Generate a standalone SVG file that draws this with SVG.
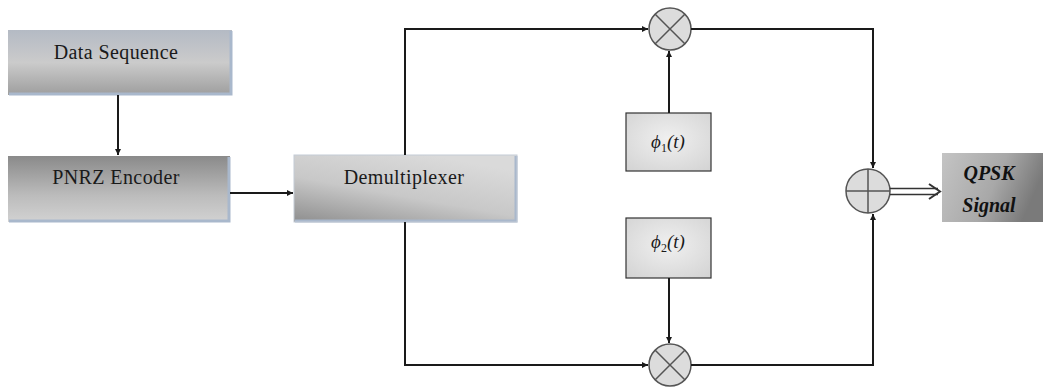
<svg xmlns="http://www.w3.org/2000/svg" width="1043" height="388" viewBox="0 0 1043 388">
  <style>
    .lbl { font-family: "Liberation Serif", "Times New Roman", serif; font-size: 20px; letter-spacing: 0.4px; fill: #1a1a1a; text-anchor: middle; }
    .phi { font-family: "Liberation Serif", "Times New Roman", serif; font-size: 19px; font-style: italic; fill: #1a1a1a; text-anchor: middle; }
    .out { font-family: "Liberation Serif", "Times New Roman", serif; font-size: 20px; font-weight: bold; font-style: italic; fill: #111; text-anchor: middle; }
    .wire { fill: none; stroke: #1a1a1a; stroke-width: 2; }
    .edge { fill: none; stroke: #a9b8cc; stroke-width: 3; }
    .op { fill: #dcdcdc; stroke: #555; stroke-width: 1.5; }
    .cross { stroke: #555; stroke-width: 1.5; }
  </style>
  <defs>
    <linearGradient id="gSeq" x1="0" y1="0" x2="0" y2="1">
      <stop offset="0" stop-color="#b4bac4"/>
      <stop offset="0.5" stop-color="#cbcbcb"/>
      <stop offset="1" stop-color="#9e9e9e"/>
    </linearGradient>
    <linearGradient id="gEnc" x1="0" y1="0" x2="0" y2="1">
      <stop offset="0" stop-color="#8a8a8a"/>
      <stop offset="0.6" stop-color="#bcbcbc"/>
      <stop offset="1" stop-color="#d2d2d2"/>
    </linearGradient>
    <linearGradient id="gDmx" x1="0" y1="1" x2="0.6" y2="0">
      <stop offset="0" stop-color="#8e8e8e"/>
      <stop offset="0.5" stop-color="#c8c8c8"/>
      <stop offset="1" stop-color="#dadada"/>
    </linearGradient>
    <linearGradient id="gOut" x1="0" y1="0" x2="1" y2="0.3">
      <stop offset="0" stop-color="#c4c4c4"/>
      <stop offset="0.6" stop-color="#a8a8a8"/>
      <stop offset="1" stop-color="#7a7a7a"/>
    </linearGradient>
    <radialGradient id="gPhi" cx="0.5" cy="0.45" r="0.7">
      <stop offset="0" stop-color="#f0f0f0"/>
      <stop offset="1" stop-color="#d4d4d4"/>
    </radialGradient>
    <marker id="arr" viewBox="0 0 10 10" refX="10" refY="5" markerWidth="6" markerHeight="6" orient="auto" markerUnits="userSpaceOnUse">
      <path d="M0,0 L10,5 L0,10 Z" fill="#1a1a1a"/>
    </marker>
  </defs>

  <!-- source blocks -->
  <g id="data-sequence">
    <rect x="8" y="30" width="224" height="65" fill="url(#gSeq)"/>
    <polyline class="edge" points="231,31 231,94 9,94"/>
    <text class="lbl" x="116" y="59">Data Sequence</text>
  </g>
  <g id="pnrz-encoder">
    <rect x="8" y="156" width="222" height="66" fill="url(#gEnc)"/>
    <polyline class="edge" points="229,157 229,221 9,221"/>
    <text class="lbl" x="116" y="184">PNRZ Encoder</text>
  </g>
  <g id="demultiplexer">
    <rect x="294" y="155" width="223" height="67" fill="url(#gDmx)"/>
    <polyline class="edge" points="516,156 516,221 295,221"/>
    <rect x="294" y="155" width="223" height="67" fill="none" stroke="#c3cbd6" stroke-width="1"/>
    <text class="lbl" x="404" y="184">Demultiplexer</text>
  </g>

  <!-- carrier blocks -->
  <g id="phi1">
    <rect x="626" y="113" width="85" height="58" fill="url(#gPhi)" stroke="#333" stroke-width="1.2"/>
    <text class="phi" x="668" y="148">ϕ<tspan font-size="12" font-style="normal" dy="4">1</tspan><tspan dy="-4">(t)</tspan></text>
  </g>
  <g id="phi2">
    <rect x="626" y="218" width="85" height="60" fill="url(#gPhi)" stroke="#333" stroke-width="1.2"/>
    <text class="phi" x="668" y="248">ϕ<tspan font-size="12" font-style="normal" dy="4">2</tspan><tspan dy="-4">(t)</tspan></text>
  </g>

  <!-- mixers and summer -->
  <g id="mixer-top">
    <circle class="op" cx="670" cy="29" r="21"/>
    <line class="cross" x1="655.2" y1="14.2" x2="684.8" y2="43.8"/>
    <line class="cross" x1="684.8" y1="14.2" x2="655.2" y2="43.8"/>
  </g>
  <g id="mixer-bottom">
    <circle class="op" cx="670" cy="365" r="21"/>
    <line class="cross" x1="655.2" y1="350.2" x2="684.8" y2="379.8"/>
    <line class="cross" x1="684.8" y1="350.2" x2="655.2" y2="379.8"/>
  </g>
  <g id="summer">
    <circle class="op" cx="868" cy="191" r="22"/>
    <line class="cross" x1="846" y1="191" x2="890" y2="191"/>
    <line class="cross" x1="868" y1="169" x2="868" y2="213"/>
  </g>

  <!-- output block -->
  <g id="qpsk-signal">
    <rect x="942" y="153" width="101" height="69" fill="url(#gOut)"/>
    <text class="out" x="989" y="180">QPSK</text>
    <text class="out" x="989" y="212">Signal</text>
  </g>

  <!-- connectors -->
  <g id="connectors">
    <line class="wire" x1="118" y1="95" x2="118" y2="155" marker-end="url(#arr)"/>
    <line class="wire" x1="230" y1="193" x2="293" y2="193" marker-end="url(#arr)"/>
    <polyline class="wire" points="405,155 405,29 648,29" marker-end="url(#arr)"/>
    <polyline class="wire" points="405,222 405,365 648,365" marker-end="url(#arr)"/>
    <line class="wire" x1="669" y1="113" x2="669" y2="51" marker-end="url(#arr)"/>
    <line class="wire" x1="669" y1="278" x2="669" y2="343" marker-end="url(#arr)"/>
    <polyline class="wire" stroke="#777" points="691,29 873,29 873,168" marker-end="url(#arr)"/>
    <polyline class="wire" stroke="#777" points="691,365 873,365 873,214" marker-end="url(#arr)"/>
    <line stroke="#333" stroke-width="1.5" x1="890" y1="188.5" x2="938" y2="188.5"/>
    <line stroke="#333" stroke-width="1.5" x1="890" y1="194.5" x2="938" y2="194.5"/>
    <path d="M929,184 L940,191.5 L929,199" fill="none" stroke="#333" stroke-width="2"/>
  </g>
</svg>
